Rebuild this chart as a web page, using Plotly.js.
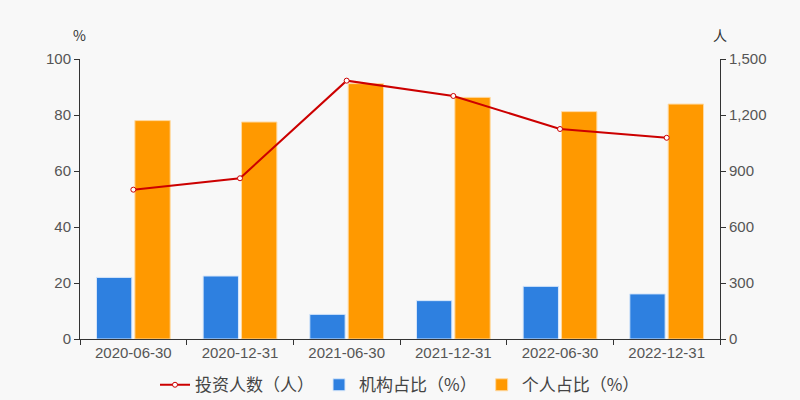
<!DOCTYPE html>
<html>
<head>
<meta charset="utf-8">
<script src="https://cdn.plot.ly/plotly-3.0.1.min.js"></script>
<style>
  body { margin: 0; background: #f8f8f8; }
  #chart { width: 800px; height: 400px; }
</style>
</head>
<body>
<div id="chart"></div>
<script>
const dates = ["2020-06-30", "2020-12-31", "2021-06-30", "2021-12-31", "2022-06-30", "2022-12-31"];
const investors = [800, 861, 1384, 1302, 1125, 1078];
const instPct = [22.0, 22.5, 8.8, 13.7, 18.8, 16.1];
const personPct = [78.0, 77.5, 91.2, 86.3, 81.2, 83.9];

const tickFam = "'Liberation Sans', Arial, sans-serif";
const cjkFam = "'Noto Sans CJK SC', 'Noto Sans', sans-serif";

let data = [];
data.push({
    x: dates, y: investors, name: "投资人数（人）", type: "scatter", mode: "lines+markers",
    yaxis: "y2",
    line: { color: "#cc0000", width: 2 },
    marker: { symbol: "circle", size: 5, color: "#ffffff", line: { color: "#cc0000", width: 1 } }
});
data.push({
    x: dates, y: instPct, name: "机构占比（%）", type: "bar",
    marker: { color: "#2e80e0", line: { color: "#d6e6fa", width: 1 } }
});
data.push({
    x: dates, y: personPct, name: "个人占比（%）", type: "bar",
    marker: { color: "#ff9900", line: { color: "#ffd9a0", width: 1 } }
});

const axisFont = { family: tickFam, size: 15, color: "#555" };

const layout = {
    width: 800, height: 400,
    paper_bgcolor: "#f8f8f8", plot_bgcolor: "#f8f8f8",
    margin: { l: 80, r: 80, t: 59, b: 61, autoexpand: false },
    font: { family: tickFam, color: "#555", size: 15 },
    barmode: "group", bargap: 0.28, bargroupgap: 0.08,
    showlegend: true,
    legend: {
        orientation: "h", x: 0.5, xanchor: "center", y: -0.165, yanchor: "middle",
        font: { family: cjkFam, size: 17, color: "#444" }, traceorder: "normal", itemwidth: 30
    },
    xaxis: {
        type: "category", showgrid: false, showline: true, linecolor: "#333", linewidth: 1,
        ticks: "outside", tickson: "boundaries", ticklen: 5, tickcolor: "#333",
        tickfont: axisFont, zeroline: false
    },
    yaxis: {
        range: [0, 100], dtick: 20, showgrid: false, showline: true, linecolor: "#333",
        ticks: "outside", ticklen: 5, tickcolor: "#333", zeroline: false,
        tickfont: axisFont
    },
    yaxis2: {
        range: [0, 1500], dtick: 300, overlaying: "y", side: "right", showgrid: false,
        showline: true, linecolor: "#333", ticks: "outside", ticklen: 5, tickcolor: "#333",
        tickformat: ",", zeroline: false, tickfont: axisFont
    },
    annotations: [
        { text: "%", xref: "paper", yref: "paper", x: 0, y: 1, xanchor: "center", yanchor: "bottom", yshift: 12, xshift: -1, showarrow: false, font: { family: cjkFam, size: 14, color: "#333" } },
        { text: "人", xref: "paper", yref: "paper", x: 1, y: 1, xanchor: "center", yanchor: "bottom", yshift: 12, showarrow: false, font: { family: cjkFam, size: 14, color: "#333" } }
    ]
};

Plotly.newPlot("chart", data, layout, { displayModeBar: false });
</script>
</body>
</html>
